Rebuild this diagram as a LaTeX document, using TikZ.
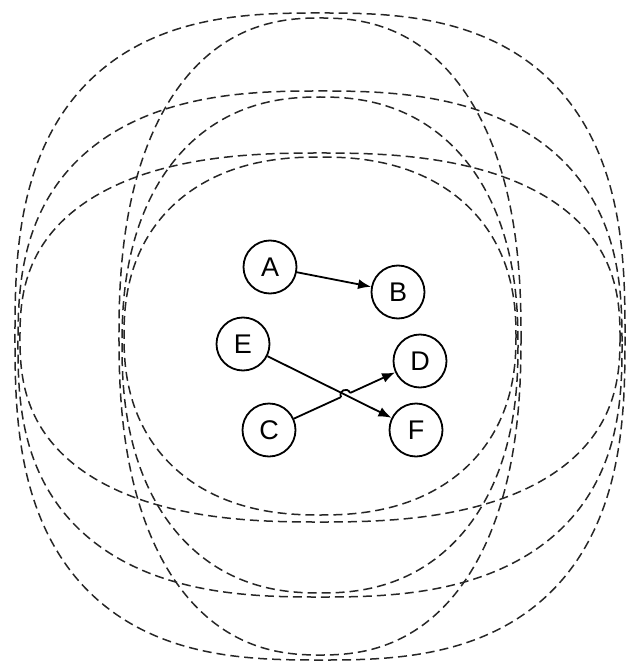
\documentclass[tikz,border=0pt]{standalone}
\usepackage{fontspec}
\setmainfont{Liberation Sans}
\usetikzlibrary{arrows.meta,calc}
% superellipse ring: centre x, centre y, half width, half height, exponent
\newcommand\sring[5]{%
  \draw[rangering] plot[domain=0:360,samples=361]
    ({#1+#3*cos(\x)*pow(abs(cos(\x))+0.0001,2/#5-1)},
     {#2+#4*sin(\x)*pow(abs(sin(\x))+0.0001,2/#5-1)});}
\begin{document}
\begin{tikzpicture}[x=1pt,y=-1pt,
  station/.style={circle,draw,line width=1.8pt,minimum size=53pt,inner sep=0pt,font=\fontsize{27}{27}\selectfont},
  link/.style={line width=1.8pt,-{Latex[length=13pt,width=10pt]}},
  hoplink/.style={line width=1.8pt},
  rangering/.style={draw=black!85,dash pattern=on 9pt off 5pt,line width=1.5pt}]
\useasboundingbox (0,0) rectangle (626,663);
% transmission ranges
\sring{320}{336.5}{305}{323.5}{2.7}
\sring{320}{336.5}{201}{318.5}{2.35}
\sring{320}{344}{302}{253}{2.6}
\sring{320}{345}{198}{248}{2.3}
\sring{320}{337.5}{300}{184.5}{2.5}
\sring{320}{336}{196}{179}{2.3}
% stations
\node[station] (A) at (270,267) {A};
\node[station] (B) at (398,292) {B};
\node[station] (E) at (243,344) {E};
\node[station] (D) at (420,361) {D};
\node[station] (C) at (269,430) {C};
\node[station] (F) at (416,430) {F};
% links
\draw[link] (A) -- (B);
\draw[link] (E) -- (F);
\coordinate (X) at (intersection of E--F and C--D);
\coordinate (P1) at ($(X)!5pt!(C)$);
\coordinate (P2) at ($(X)!5pt!(D)$);
\draw[hoplink] (C) -- (P1);
\draw[hoplink] (P1) .. controls ($(P1)+(115:7pt)$) and ($(P2)+(115:7pt)$) .. (P2);
\draw[link] (P2) -- (D);
\end{tikzpicture}
\end{document}
